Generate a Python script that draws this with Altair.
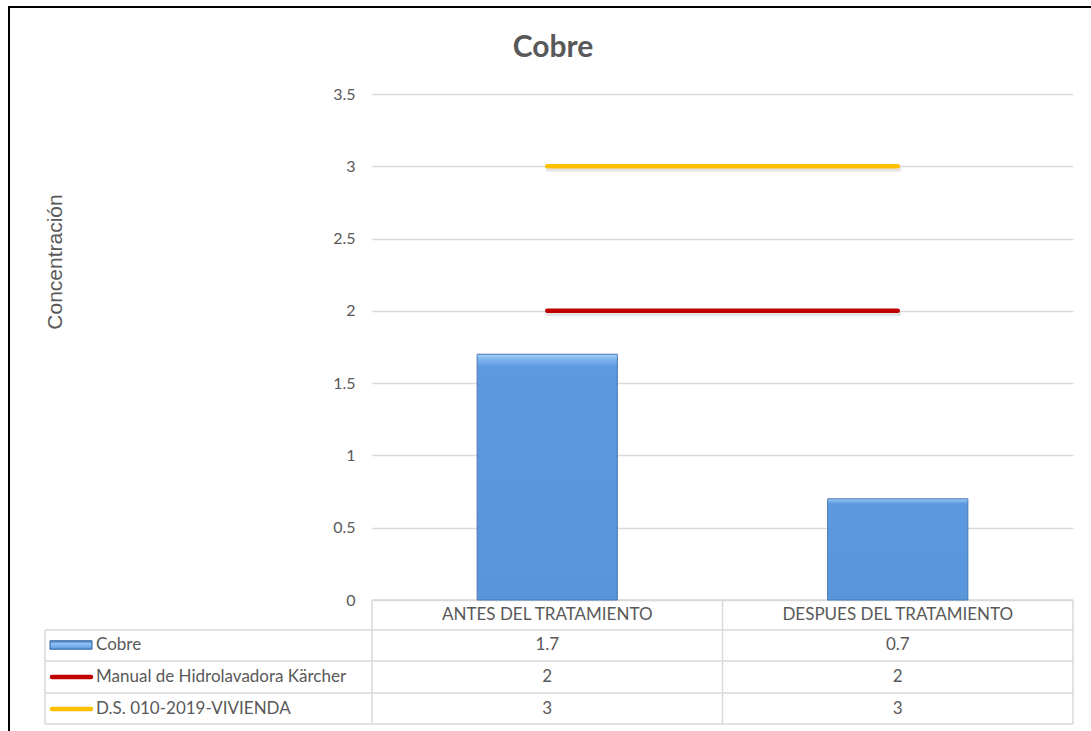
import altair as alt
import pandas as pd

# ---------------- data ----------------
categories = ["ANTES DEL TRATAMIENTO", "DESPUES DEL TRATAMIENTO"]
series_names = ["Cobre", "Manual de Hidrolavadora Kärcher", "D.S. 010-2019-VIVIENDA"]
cobre = [1.7, 0.7]
manual_karcher = [2, 2]
ds_vivienda = [3, 3]
y_ticks = [0, 0.5, 1, 1.5, 2, 2.5, 3, 3.5]
title_text = "Cobre"
y_title = "Concentración"

series_values = [cobre, manual_karcher, ds_vivienda]
rows = []
for name, vals in zip(series_names, series_values):
    for cat, v in zip(categories, vals):
        rows.append({"cat": cat, "series": name, "value": v})
df = pd.DataFrame(rows)
df_bar = df[df.series == series_names[0]]
df_lines = df[df.series != series_names[0]]
df_cats = pd.DataFrame({"cat": categories})
df_series = pd.DataFrame({"series": series_names})

# ---------------- layout / style ----------------
W, H = 701, 506
PL, PT = 372, 94
TXT = "#595959"
GRID = "#d9d9d9"
FONT = "Lato"
TFS = 17
line_colors = ["#c00000", "#ffc000"]

x_scale = alt.Scale(domain=categories, paddingInner=0, paddingOuter=0)
row_scale = alt.Scale(type="point", domain=series_names, range=[551, 615], padding=0)

bar_fill = alt.Gradient(
    gradient="linear", x1=0, y1=0, x2=0, y2=1,
    stops=[
        alt.GradientStop(offset=0, color="#a9d2f9"),
        alt.GradientStop(offset=0.02, color="#7fb6ee"),
        alt.GradientStop(offset=0.05, color="#5c99de"),
        alt.GradientStop(offset=1, color="#5995db"),
    ],
)

bars = alt.Chart(df_bar).mark_bar(
    width=alt.RelativeBandSize(0.4), fill=bar_fill, stroke="#4677b5", strokeWidth=1
).encode(
    x=alt.X("cat:N", scale=x_scale, axis=None),
    y=alt.Y(
        "value:Q",
        scale=alt.Scale(domain=[0, 3.5], nice=False),
        axis=alt.Axis(
            values=y_ticks, format=".1~f", title=None, domain=False, ticks=False,
            labelPadding=17, gridColor=GRID, gridWidth=1.5, labelFont=FONT,
            labelFontSize=16, labelColor=TXT,
        ),
    ),
)

line_shadow = alt.Chart(df_lines).mark_line(
    strokeWidth=5, color="#000000", opacity=0.10, yOffset=3, xOffset=1, strokeCap="round"
).encode(
    x=alt.X("cat:N", scale=x_scale, axis=None, bandPosition=0.5),
    y=alt.Y("value:Q"),
    detail="series:N",
)

lines = alt.Chart(df_lines).mark_line(strokeWidth=4.5, strokeCap="round").encode(
    x=alt.X("cat:N", scale=x_scale, axis=None, bandPosition=0.5),
    y=alt.Y("value:Q"),
    color=alt.Color("series:N", scale=alt.Scale(domain=series_names[1:], range=line_colors), legend=None),
)

main = alt.layer(bars, line_shadow, lines)

# ---------------- data table ----------------
cat_text = alt.Chart(df_cats).mark_text(font=FONT, fontSize=TFS, color=TXT, baseline="middle").encode(
    x=alt.X("cat:N", scale=x_scale, axis=None, bandPosition=0.5),
    y=alt.value(521),
    text="cat:N",
)

value_text = alt.Chart(df).mark_text(font=FONT, fontSize=TFS, color=TXT, baseline="middle").encode(
    x=alt.X("cat:N", scale=x_scale, axis=None, bandPosition=0.5),
    y=alt.Y("series:N", scale=row_scale, axis=None),
    text=alt.Text("value:Q"),
)

label_text = alt.Chart(df_series).mark_text(
    font=FONT, fontSize=TFS, color=TXT, align="left", baseline="middle"
).encode(
    x=alt.value(-276),
    y=alt.Y("series:N", scale=row_scale, axis=None),
    text="series:N",
)

swatch_fill = alt.Gradient(
    gradient="linear", x1=0, y1=0, x2=0, y2=1,
    stops=[
        alt.GradientStop(offset=0, color="#4a7fc0"),
        alt.GradientStop(offset=0.35, color="#8fc3f5"),
        alt.GradientStop(offset=1, color="#5b97dc"),
    ],
)
swatch_bar = alt.Chart(df_series[df_series.series == series_names[0]]).mark_point(
    shape="M-1,-0.2H1V0.2H-1Z", size=1764, filled=True, fill=swatch_fill,
    stroke="#2f5f9e", strokeWidth=1, opacity=1,
).encode(
    x=alt.value(-301),
    y=alt.Y("series:N", scale=row_scale, axis=None),
)

swatch_lines = alt.Chart(df_series[df_series.series != series_names[0]]).mark_rule(
    strokeWidth=4.5, strokeCap="round"
).encode(
    x=alt.value(-320),
    x2=alt.value(-281),
    y=alt.Y("series:N", scale=row_scale, axis=None),
    color=alt.Color("series:N", scale=alt.Scale(domain=series_names[1:], range=line_colors), legend=None),
)

table = alt.layer(cat_text, value_text, label_text, swatch_bar, swatch_lines)

# ---------------- table grid & frame ----------------
dummy = pd.DataFrame({"d": [0]})


def hrule(x1, x2, y, color=GRID, w=1.5):
    return alt.Chart(dummy).mark_rule(color=color, strokeWidth=w).encode(
        x=alt.value(x1), x2=alt.value(x2), y=alt.value(y)
    )


def vrule(x, y1, y2, color=GRID, w=1.5):
    return alt.Chart(dummy).mark_rule(color=color, strokeWidth=w).encode(
        x=alt.value(x), y=alt.value(y1), y2=alt.value(y2)
    )


grid_rules = [
    hrule(0, W, 506),
    hrule(-327, W, 536),
    hrule(-327, W, 567),
    hrule(-327, W, 599),
    hrule(-327, W, 630),
    vrule(-327, 536, 630),
    vrule(0, 506, 630),
    vrule(W / 2, 506, 630),
    vrule(W, 506, 630),
]

frame_rules = [
    hrule(-364, 719, -87, color="#000000", w=2),
    vrule(-363, -88, 640, color="#000000", w=2),
]

# ---------------- titles ----------------
title = alt.Chart(pd.DataFrame({"t": [title_text]})).mark_text(
    font=FONT, fontSize=30, fontWeight="bold", color=TXT, align="center", baseline="middle"
).encode(x=alt.value(181), y=alt.value(-46), text="t:N")

ytitle = alt.Chart(pd.DataFrame({"t": [y_title]})).mark_text(
    font="Liberation Sans", fontSize=21, color=TXT, align="center", baseline="middle", angle=270
).encode(x=alt.value(-316), y=alt.value(168), text="t:N")

chart = alt.layer(
    *grid_rules, *frame_rules, main, table, title, ytitle
).resolve_scale(y="independent").properties(
    width=W,
    height=H,
    autosize=alt.AutoSizeParams(type="none"),
    padding={"left": PL, "top": PT, "right": 1091 - PL - W, "bottom": 731 - PT - H},
    background="white",
).configure_view(stroke=None)

chart.save("out.html", embed_options={"renderer": "svg", "actions": False})
